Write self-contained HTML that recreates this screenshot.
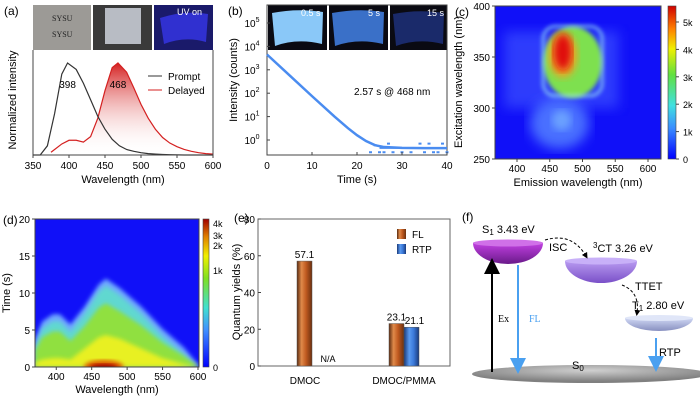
<!DOCTYPE html>
<html><head><meta charset="utf-8"><style>
body{margin:0;background:#fff}
svg{display:block;font-family:"Liberation Sans",sans-serif}
</style></head><body>
<svg id="fig" width="700" height="401" viewBox="0 0 700 401">
<defs>
<linearGradient id="redfill" x1="0" y1="0" x2="0" y2="1"><stop offset="0" stop-color="#d42020"/><stop offset="1" stop-color="#fff" stop-opacity="0"/></linearGradient>
<linearGradient id="flbar" x1="0" x2="1"><stop offset="0" stop-color="#5a2a10"/><stop offset="0.3" stop-color="#e08a4a"/><stop offset="0.6" stop-color="#c05a20"/><stop offset="1" stop-color="#6a3010"/></linearGradient>
<linearGradient id="rtpbar" x1="0" x2="1"><stop offset="0" stop-color="#1a3a7a"/><stop offset="0.35" stop-color="#5a9af0"/><stop offset="0.65" stop-color="#3a78d8"/><stop offset="1" stop-color="#1a3a7a"/></linearGradient>
<linearGradient id="cbar1" x1="0" y1="1" x2="0" y2="0"><stop offset="0" stop-color="#0000ff"/><stop offset="0.2" stop-color="#3a8cff"/><stop offset="0.35" stop-color="#40e0e0"/><stop offset="0.55" stop-color="#60e040"/><stop offset="0.72" stop-color="#f0f000"/><stop offset="0.85" stop-color="#ff8000"/><stop offset="1" stop-color="#d00000"/></linearGradient>
<linearGradient id="cbar2" x1="0" y1="1" x2="0" y2="0"><stop offset="0" stop-color="#0000ff"/><stop offset="0.25" stop-color="#4090ff"/><stop offset="0.4" stop-color="#40e0d0"/><stop offset="0.6" stop-color="#80e020"/><stop offset="0.75" stop-color="#f0f000"/><stop offset="0.88" stop-color="#e08000"/><stop offset="1" stop-color="#a00000"/></linearGradient>
<linearGradient id="s1g" x1="0" y1="0" x2="0" y2="1"><stop offset="0" stop-color="#c040e0"/><stop offset="1" stop-color="#6a1a8a"/></linearGradient>
<linearGradient id="ctg" x1="0" y1="0" x2="0" y2="1"><stop offset="0" stop-color="#b89af0"/><stop offset="1" stop-color="#7a50c8"/></linearGradient>
<linearGradient id="t1g" x1="0" y1="0" x2="0" y2="1"><stop offset="0" stop-color="#d0d8f4"/><stop offset="1" stop-color="#8890c0"/></linearGradient>
<radialGradient id="s0g" cx="0.5" cy="0.3" r="0.6"><stop offset="0" stop-color="#d0d0d0"/><stop offset="1" stop-color="#808080"/></radialGradient>
<filter id="blur4"><feGaussianBlur stdDeviation="4"/></filter>
<filter id="blur6"><feGaussianBlur stdDeviation="6"/></filter>
<filter id="blur2"><feGaussianBlur stdDeviation="2"/></filter>
<clipPath id="clipC"><rect x="495" y="6" width="166" height="153"/></clipPath>
<clipPath id="clipD"><rect x="35" y="219" width="164" height="148"/></clipPath>
<marker id="ahB" markerWidth="8" markerHeight="8" refX="4" refY="4" orient="auto"><path d="M0,0L8,4L0,8z" fill="#000"/></marker>
<marker id="ahL" markerWidth="8" markerHeight="8" refX="4" refY="4" orient="auto"><path d="M0,0L8,4L0,8z" fill="#4aa0f0"/></marker>
<marker id="ahD" markerWidth="6" markerHeight="6" refX="3" refY="3" orient="auto"><path d="M0,0L6,3L0,6z" fill="#000"/></marker>
</defs>

<g>
<rect x="33" y="5" width="58" height="45" fill="#9c9a96"/>
<text x="52" y="21" font-family="Liberation Serif" font-size="8" fill="#222">SYSU</text>
<text x="52" y="37" font-family="Liberation Serif" font-size="8" fill="#222">SYSU</text>
<rect x="93" y="5" width="59" height="45" fill="#3a3a3a"/>
<rect x="105" y="8" width="36" height="36" fill="#b8bcc4"/>
<rect x="154" y="5" width="59" height="45" fill="#1a1a6a"/>
<path d="M160,18 Q185,10 208,14 L206,42 Q185,36 164,44 Z" fill="#3030d0"/>
<text x="177" y="15" font-size="9" fill="#fff">UV on</text>
</g>
<g>
<rect x="268" y="5" width="59" height="45" fill="#0a0a12"/>
<path d="M272,13 Q297,8 323,12 L322,44 Q297,38 275,46 Z" fill="#8ac8f8"/>
<rect x="329" y="5" width="59" height="45" fill="#0a0a12"/>
<path d="M332,13 Q358,8 384,12 L383,44 Q358,38 335,46 Z" fill="#3a70c8"/>
<rect x="390" y="5" width="57" height="45" fill="#0a0a12"/>
<path d="M393,14 Q418,9 444,13 L443,44 Q418,38 396,46 Z" fill="#1a2a6a"/>
<text x="301" y="16" font-size="9" fill="#fff">0.5 s</text>
<text x="368" y="16" font-size="9" fill="#fff">5 s</text>
<text x="427" y="16" font-size="9" fill="#fff">15 s</text>
</g>

<g id="chartA"></g>
<g id="chartB"></g>
<g id="chartC"></g>
<g id="chartD"></g>
<g id="chartE"></g>

<g>
<text x="462" y="221" font-size="12">(f)</text>
<ellipse cx="590" cy="374" rx="118" ry="9" fill="url(#s0g)"/>
<text x="572" y="369" font-size="11">S<tspan font-size="8" dy="2">0</tspan></text>
<path d="M473,243 A35,21 0 0 0 543,243 Z" fill="url(#s1g)"/>
<ellipse cx="508" cy="243" rx="35" ry="3.5" fill="#d070e8"/>
<text x="482" y="233" font-size="11">S<tspan font-size="8" dy="2">1</tspan><tspan dy="-2"> 3.43 eV</tspan></text>
<path d="M565,261 A36,22 0 0 0 637,261 Z" fill="url(#ctg)"/>
<ellipse cx="601" cy="261" rx="36" ry="3.5" fill="#c8b0f8"/>
<text x="593" y="252" font-size="11"><tspan font-size="8" dy="-4">3</tspan><tspan dy="4">CT 3.26 eV</tspan></text>
<path d="M625,318 A34,13 0 0 0 693,318 Z" fill="url(#t1g)"/>
<ellipse cx="659" cy="318" rx="34" ry="3" fill="#e0e6f8"/>
<text x="632" y="309" font-size="11">T<tspan font-size="8" dy="2">1</tspan><tspan dy="-2"> 2.80 eV</tspan></text>
<line x1="492" y1="372" x2="492" y2="266" stroke="#000" stroke-width="2" marker-end="url(#ahB)"/>
<line x1="518" y1="265" x2="518" y2="366" stroke="#4aa0f0" stroke-width="2" marker-end="url(#ahL)"/>
<line x1="656" y1="338" x2="656" y2="364" stroke="#4aa0f0" stroke-width="2" marker-end="url(#ahL)"/>
<text x="498" y="322" font-family="Liberation Serif" font-size="10">Ex</text>
<text x="529" y="322" font-family="Liberation Serif" font-size="10" fill="#4aa0f0">FL</text>
<text x="659" y="356" font-size="11">RTP</text>
<path d="M545,240 Q572,232 586,256" fill="none" stroke="#000" stroke-dasharray="3,2" marker-end="url(#ahD)"/>
<text x="549" y="251" font-size="11">ISC</text>
<path d="M622,285 Q640,292 637,313" fill="none" stroke="#000" stroke-dasharray="3,2" marker-end="url(#ahD)"/>
<text x="635" y="290" font-size="11">TTET</text>
</g>

<script>
const NS="http://www.w3.org/2000/svg";
function mk(p,tag,at,txt){const e=document.createElementNS(NS,tag);for(const k in at)e.setAttribute(k,at[k]);if(txt!==undefined)e.textContent=txt;p.appendChild(e);return e;}

const aWl=[350,360,370,380,390,398,410,420,430,440,450,460,470,480,490,500,510,520,530,540,560,600];
const aPrompt=[0.0,0.0,0.1,0.45,0.88,1.0,0.93,0.78,0.6,0.42,0.28,0.17,0.1,0.06,0.04,0.025,0.015,0.01,0.006,0.003,0.0,0.0];
const dWl=[375,380,390,400,410,420,430,440,450,460,468,480,490,500,510,520,530,540,550,560,570,580,590,600];
const aDelayed=[0.03,0.06,0.12,0.16,0.16,0.14,0.2,0.4,0.7,0.95,1.0,0.9,0.73,0.55,0.4,0.28,0.19,0.13,0.09,0.06,0.04,0.025,0.015,0.01];
const aXTicks=[350,400,450,500,550,600];
const bTime=[0,5,10,15,18,20,22,24,26,30,35,40];
const bCounts=[4500,580,75,10,3.2,1.6,0.9,0.6,0.5,0.46,0.45,0.45];
const bFloorT=[23,24,25,26,27,28,30,32,34,35,36,37,38,39,40];
const bFloorV=[0.3,0.6,0.3,0.3,0.7,0.3,0.3,0.3,0.7,0.3,0.7,0.3,0.3,0.7,0.3];
const bXTicks=[0,10,20,30,40];
const bYExp=[0,1,2,3,4,5];
const cXTicks=[400,450,500,550,600];
const cYTicks=[250,300,350,400];
const cCbTicks=["0","1k","2k","3k","4k","5k"];
const cBlobEm=[465,485,470,470];
const cBlobEx=[318,345,352,355];
const cBlobRx=[95,45,22,14];
const cBlobRy=[60,35,22,18];
const cBlobColor=["#6aa8ff","#7ee050","#f0a020","#e01010"];
const dXWl=[370,380,395,405,420,440,460,470,490,520,550,580,600];
const dOuter=[3.5,6,7,7,5.6,8,11,11.8,10.5,8,5,2.5,0.2];
const dMid=[2.2,4,4.8,4.8,3.5,5.5,8,8.6,7.5,5.6,3.3,1.5,0.1];
const dInner=[0.6,1,1.2,1.2,1,2.5,4,4.3,3.8,2.5,1.2,0.4,0];
const dXTicks=[400,450,500,550,600];
const dYTicks=[0,5,10,15,20];
const dCbTicks=["0","1k","2k","3k","4k"];
const eCats=["DMOC","DMOC/PMMA"];
const eFL=[57.1,23.1];
const eRTP=[null,21.1];
const eYTicks=[0,20,40,60,80];

(function(){
 const g=document.getElementById("chartA");
 const X=w=>33+(w-350)/250*180, Y=v=>155-v*92;
 mk(g,"text",{x:4,y:15,"font-size":12},"(a)");
 let p=dWl.map((w,i)=>X(w)+","+Y(aDelayed[i])).join(" ");
 const area=mk(g,"polygon",{points:X(375)+","+Y(0)+" "+p+" "+X(600)+","+Y(0),fill:"url(#redfill)"});
 
 
 const ld=mk(g,"polyline",{points:p,fill:"none",stroke:"#d42020","stroke-width":1.2});
 
 
 const lp=mk(g,"polyline",{points:aWl.map((w,i)=>X(w)+","+Y(aPrompt[i])).join(" "),fill:"none",stroke:"#333","stroke-width":1.2});
 
 
 mk(g,"line",{x1:33,y1:50,x2:33,y2:155,stroke:"#444"});
 mk(g,"line",{x1:213,y1:50,x2:213,y2:155,stroke:"#444"});
 mk(g,"line",{x1:33,y1:155,x2:213,y2:155,stroke:"#444"});
 aXTicks.forEach(t=>{mk(g,"line",{x1:X(t),y1:155,x2:X(t),y2:158,stroke:"#444"});mk(g,"text",{x:X(t),y:169,"font-size":10,"text-anchor":"middle"},t);});
 mk(g,"text",{x:123,y:183,"font-size":11,"text-anchor":"middle"},"Wavelength (nm)");
 mk(g,"text",{x:16,y:100,"font-size":11,"text-anchor":"middle",transform:"rotate(-90 16 100)"},"Normalized intensity");
 mk(g,"text",{x:X(398),y:88,"font-size":10,"text-anchor":"middle"},"398");
 mk(g,"text",{x:X(468),y:88,"font-size":10,"text-anchor":"middle"},"468");
 mk(g,"line",{x1:148,y1:76,x2:162,y2:76,stroke:"#333"});
 mk(g,"text",{x:168,y:80,"font-size":10},"Prompt");
 mk(g,"line",{x1:148,y1:90,x2:162,y2:90,stroke:"#d42020"});
 mk(g,"text",{x:168,y:94,"font-size":10},"Delayed");
})();

(function(){
 const g=document.getElementById("chartB");
 const X=t=>267+t/40*180, Y=v=>140-Math.log10(v)*23.4;
 mk(g,"text",{x:228,y:15,"font-size":12},"(b)");
 mk(g,"rect",{x:267,y:5,width:180,height:150,fill:"none",stroke:"#444"});
 const l=mk(g,"polyline",{points:bTime.map((t,i)=>X(t)+","+Y(bCounts[i])).join(" "),fill:"none",stroke:"#4a8cf0","stroke-width":2.5});
 
 
 bFloorT.forEach((t,i)=>{const r=mk(g,"rect",{x:X(t)-1.5,y:Y(bFloorV[i])-1,width:3,height:2,fill:"#4a8cf0"});
  
  });
 mk(g,"line",{x1:X(25),y1:Y(0.45),x2:X(40),y2:Y(0.45),stroke:"#4a8cf0","stroke-width":1.5});
 bXTicks.forEach(t=>{mk(g,"line",{x1:X(t),y1:155,x2:X(t),y2:152,stroke:"#444"});mk(g,"text",{x:X(t),y:169,"font-size":10,"text-anchor":"middle"},t);});
 bYExp.forEach(e=>{const y=140-e*23.4;mk(g,"line",{x1:267,y1:y,x2:270,y2:y,stroke:"#444"});
  const t=mk(g,"text",{x:252,y:y+4,"font-size":10,"text-anchor":"middle"},"10");mk(t,"tspan",{"font-size":7,dy:-5},e);});
 mk(g,"text",{x:357,y:183,"font-size":11,"text-anchor":"middle"},"Time (s)");
 mk(g,"text",{x:237,y:80,"font-size":11,"text-anchor":"middle",transform:"rotate(-90 237 80)"},"Intensity (counts)");
 mk(g,"text",{x:354,y:95,"font-size":10},"2.57 s @ 468 nm");
})();

(function(){
 const g=document.getElementById("chartC");
 const X=w=>517+(w-400)/50*32.75, Y=e=>159-(e-250)/150*153;
 const sx=32.75/50, sy=153/150;
 mk(g,"text",{x:455,y:16,"font-size":12},"(c)");
 const cg=mk(g,"g",{"clip-path":"url(#clipC)"});
 mk(cg,"rect",{x:495,y:6,width:166,height:153,fill:"#1010f8"});
 mk(cg,"rect",{x:X(380),y:Y(375),width:X(555)-X(380),height:Y(300)-Y(375),fill:"#3a50ff",filter:"url(#blur6)",opacity:0.7});
 mk(cg,"ellipse",{cx:X(465),cy:Y(285),rx:45*sx,ry:25*sy,fill:"#4a70ff",filter:"url(#blur6)"});
 mk(cg,"ellipse",{cx:X(468),cy:Y(288),rx:15*sx,ry:10*sy,fill:"#6aa0ff",filter:"url(#blur4)"});
 cBlobEm.forEach((w,i)=>{if(i===0)return;
  const e=mk(cg,"ellipse",{cx:X(w),cy:Y(cBlobEx[i]),rx:cBlobRx[i]*sx,ry:cBlobRy[i]*sy,fill:cBlobColor[i],filter:i===1?"url(#blur2)":"url(#blur4)"});
  
  });
 mk(cg,"rect",{x:X(440),y:Y(380),width:X(530)-X(440),height:Y(312)-Y(380),rx:12,fill:"none",stroke:"#a0f0f0","stroke-width":2,filter:"url(#blur2)"});
 mk(g,"rect",{x:495,y:6,width:166,height:153,fill:"none",stroke:"#444"});
 cXTicks.forEach(t=>{mk(g,"line",{x1:X(t),y1:159,x2:X(t),y2:162,stroke:"#444"});mk(g,"text",{x:X(t),y:172,"font-size":10,"text-anchor":"middle"},t);});
 cYTicks.forEach(t=>{mk(g,"line",{x1:492,y1:Y(t),x2:495,y2:Y(t),stroke:"#444"});mk(g,"text",{x:490,y:Y(t)+4,"font-size":10,"text-anchor":"end"},t);});
 mk(g,"text",{x:578,y:186,"font-size":11,"text-anchor":"middle"},"Emission wavelength (nm)");
 mk(g,"text",{x:462,y:82,"font-size":11,"text-anchor":"middle",transform:"rotate(-90 462 82)"},"Excitation wavelength (nm)");
 mk(g,"rect",{x:668,y:6,width:8,height:153,fill:"url(#cbar1)",stroke:"#444","stroke-width":0.6});
 cCbTicks.forEach((t,i)=>{const y=159-i*27.4;mk(g,"line",{x1:676,y1:y,x2:679,y2:y,stroke:"#444"});mk(g,"text",{x:683,y:y+4,"font-size":9},t);});
})();

(function(){
 const g=document.getElementById("chartD");
 const X=w=>35+(w-370)/230*163, Y=t=>367-t/20*148;
 mk(g,"text",{x:3,y:224,"font-size":12},"(d)");
 const cg=mk(g,"g",{"clip-path":"url(#clipD)"});
 mk(cg,"rect",{x:35,y:219,width:164,height:148,fill:"#1010f8"});
 function area(arr,col,off,blur){const pts=dXWl.map((w,i)=>X(w)+","+(Y(arr[i])+off)).join(" ");
  return mk(cg,"polygon",{points:X(370)+",367 "+pts+" "+X(600)+",367",fill:col,filter:blur});}
 const a1=area(dOuter,"#70a8ff",-1,"url(#blur2)");
 
 
 const a2=area(dOuter,"#60d8d0",6,"url(#blur2)");
 
 
 const a3=area(dMid,"#90e040",0,"url(#blur2)");
 
 
 const a4=area(dInner,"#e8f020",0,"url(#blur2)");
 
 
 mk(cg,"ellipse",{cx:X(467),cy:367,rx:20,ry:7,fill:"#e06000",filter:"url(#blur2)"});
 mk(cg,"ellipse",{cx:X(467),cy:368,rx:14,ry:4,fill:"#a00000",filter:"url(#blur2)"});
 mk(g,"rect",{x:35,y:219,width:164,height:148,fill:"none",stroke:"#444"});
 dXTicks.forEach(t=>{mk(g,"line",{x1:X(t),y1:367,x2:X(t),y2:370,stroke:"#444"});mk(g,"text",{x:X(t),y:380,"font-size":10,"text-anchor":"middle"},t);});
 dYTicks.forEach(t=>{mk(g,"line",{x1:32,y1:Y(t),x2:35,y2:Y(t),stroke:"#444"});mk(g,"text",{x:30,y:Y(t)+4,"font-size":10,"text-anchor":"end"},t);});
 mk(g,"text",{x:117,y:393,"font-size":11,"text-anchor":"middle"},"Wavelength (nm)");
 mk(g,"text",{x:10,y:293,"font-size":11,"text-anchor":"middle",transform:"rotate(-90 10 293)"},"Time (s)");
 mk(g,"rect",{x:203,y:219,width:6,height:148,fill:"url(#cbar2)",stroke:"#444","stroke-width":0.6});
 const cbY=[367,270,245,235,223];
 dCbTicks.forEach((t,i)=>{mk(g,"text",{x:213,y:cbY[i]+4,"font-size":9},t);});
})();

(function(){
 const g=document.getElementById("chartE");
 const Y=v=>366-v/80*147;
 const catX=[305,404], bw=15;
 mk(g,"text",{x:234,y:222,"font-size":12},"(e)");
 mk(g,"rect",{x:258,y:219,width:192,height:147,fill:"none",stroke:"#666"});
 eYTicks.forEach(t=>{mk(g,"line",{x1:258,y1:Y(t),x2:261,y2:Y(t),stroke:"#444"});mk(g,"text",{x:255,y:Y(t)+4,"font-size":10,"text-anchor":"end"},t);});
 eCats.forEach((c,i)=>{
  const fx=eRTP[i]===null?catX[i]-8:catX[i]-bw;
  const b=mk(g,"rect",{x:fx,y:Y(eFL[i]),width:bw,height:366-Y(eFL[i]),fill:"url(#flbar)",stroke:"#555","stroke-width":0.5});
  
  
  mk(g,"text",{x:fx+bw/2,y:Y(eFL[i])-3,"font-size":10,"text-anchor":"middle"},eFL[i].toFixed(1));
  if(eRTP[i]===null){mk(g,"text",{x:fx+bw+16,y:362,"font-size":9,"text-anchor":"middle"},"N/A");}
  else{const r=mk(g,"rect",{x:catX[i],y:Y(eRTP[i]),width:bw,height:366-Y(eRTP[i]),fill:"url(#rtpbar)",stroke:"#555","stroke-width":0.5});
   
   
   mk(g,"text",{x:catX[i]+bw/2+3,y:Y(eRTP[i])-3,"font-size":10,"text-anchor":"middle"},eRTP[i].toFixed(1));}
  mk(g,"text",{x:catX[i],y:384,"font-size":10,"text-anchor":"middle"},c);
 });
 mk(g,"text",{x:240,y:292,"font-size":11,"text-anchor":"middle",transform:"rotate(-90 240 292)"},"Quantum yields (%)");
 mk(g,"rect",{x:397,y:229,width:9,height:10,fill:"url(#flbar)"});
 mk(g,"text",{x:412,y:238,"font-size":10},"FL");
 mk(g,"rect",{x:397,y:244,width:9,height:10,fill:"url(#rtpbar)"});
 mk(g,"text",{x:412,y:253,"font-size":10},"RTP");
})();
</script>
</svg>
</body></html>
